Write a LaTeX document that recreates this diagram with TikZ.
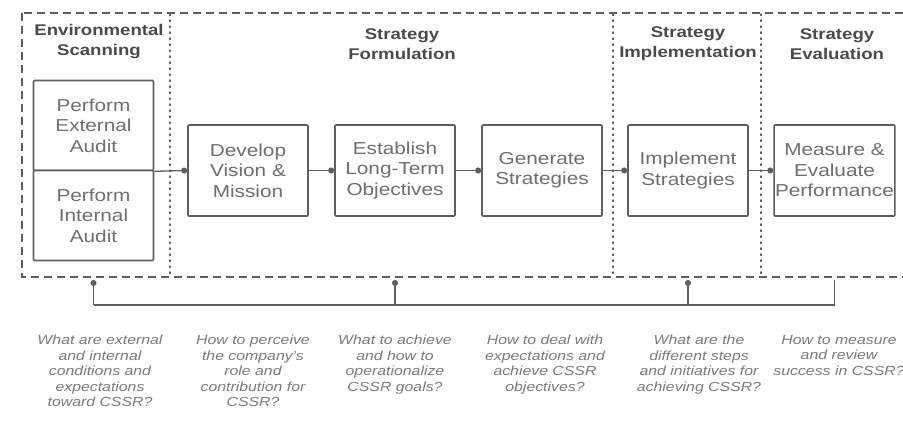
\documentclass[tikz,border=0pt]{standalone}
\usepackage{fontspec}
\setmainfont{Liberation Sans}[FakeStretch=1.2]
\usepackage{tikz}
\usetikzlibrary{positioning, arrows.meta}
\usepackage{xcolor}

\definecolor{boxline}{HTML}{5E5E5E}
\definecolor{boxtext}{HTML}{6E6E6E}
\definecolor{headtext}{HTML}{4A4A4A}
\definecolor{asktext}{HTML}{7A7A7A}

\tikzset{
  stage/.style={draw=boxline, line width=1.6pt, rounded corners=1pt, fill=white,
    minimum width=120pt, minimum height=91pt, inner sep=1pt, align=center,
    text=boxtext, font=\fontsize{17.3}{20.5}\selectfont},
  phase/.style={align=center, text=headtext, font=\fontsize{15.5}{20}\selectfont\bfseries},
  ask/.style={align=center, anchor=north, text=asktext, inner sep=0pt,
    font=\fontsize{13.2}{15.5}\selectfont\itshape},
  conn/.style={draw=boxline, line width=1.3pt, -{Circle[length=6pt]}},
  fb/.style={draw=boxline, line width=1.3pt},
  frame/.style={draw=boxline, line width=1.6pt, dash pattern=on 8pt off 5pt},
  divider/.style={draw=boxline, line width=1.4pt, line cap=round, dash pattern=on 1.5pt off 4.5pt}
}

\begin{document}
\begin{tikzpicture}[x=1pt, y=-1pt]

  \useasboundingbox (0,0) rectangle (903,430);

  % ---- frame and phase dividers ----
  \draw[frame] (22,13) rectangle (920,277);
  \foreach \x in {170,613,761} {
    \draw[divider] (\x,14) -- (\x,276);
  }

  % ---- phase headings ----
  \node[phase] (hscan) at (99,42)  {Environmental\\Scanning};
  \node[phase] (hform) at (402,44) {Strategy\\Formulation};
  \node[phase] (himpl) at (688,44) {Strategy\\Implementation};
  \node[phase] (heval) at (837,44) {Strategy\\Evaluation};

  % ---- process boxes ----
  \node[stage, minimum height=90pt] (ext) at (93.5,125.5) {Perform\\External\\Audit};
  \node[stage, minimum height=90pt] (int) at (93.5,215.5) {Perform\\Internal\\Audit};
  \node[stage] (dev) at (248,170.5) {Develop\\Vision \&\\Mission};
  \node[stage] (est) at (395,170.5) {Establish\\Long-Term\\Objectives};
  \node[stage] (gen) at (542,170.5) {Generate\\Strategies};
  \node[stage] (imp) at (688,170.5) {Implement\\Strategies};
  \node[stage] (mea) at (834.5,170.5) {Measure \&\\Evaluate\\Performance};

  % flow between boxes
  \draw[conn] (ext.south east) -- (dev.west);
  \draw[conn] (dev) -- (est);
  \draw[conn] (est) -- (gen);
  \draw[conn] (gen) -- (imp);
  \draw[conn] (imp) -- (mea);

  % ---- feedback line under the frame ----
  \coordinate (top) at (0,280);
  \coordinate (low) at (0,305);
  \draw[fb] (mea |- top) -- (mea |- low) -- (ext |- low);
  \foreach \n in {ext,est,imp} {
    \draw[conn] (\n |- low) -- (\n |- top);
  }

  % ---- guiding questions ----
  \node[ask] (q1) at (100,335) {What are external\\and internal\\conditions and\\expectations\\toward CSSR?};
  \node[ask] (q2) at (253,335) {How to perceive\\the company's\\role and\\contribution for\\CSSR?};
  \node[ask] (q3) at (395,335) {What to achieve\\and how to\\operationalize\\CSSR goals?};
  \node[ask] (q4) at (545,335) {How to deal with\\expectations and\\achieve CSSR\\objectives?};
  \node[ask] (q5) at (699,335) {What are the\\different steps\\and initiatives for\\achieving CSSR?};
  \node[ask] (q6) at (839,335) {How to measure\\and review\\success in CSSR?};

\end{tikzpicture}
\end{document}
